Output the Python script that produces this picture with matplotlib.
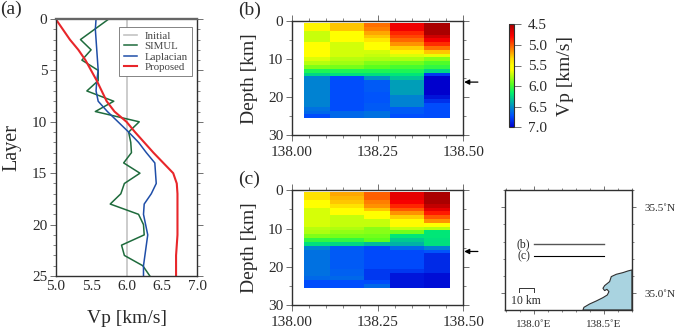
import numpy as np
import matplotlib
matplotlib.use("Agg")
import matplotlib.pyplot as plt
from matplotlib.colors import LinearSegmentedColormap, Normalize
from matplotlib.cm import ScalarMappable
from matplotlib.ticker import MultipleLocator, FixedLocator

plt.rcParams['font.family'] = ['Liberation Serif', 'DejaVu Serif']
plt.rcParams['mathtext.fontset'] = 'stix'
TXT = '#2a2a2a'

layers = list(range(26))
simul = [5.75,5.55,5.35,5.50,5.37,5.60,5.60,5.44,5.82,5.56,6.18,6.03,6.06,6.07,5.96,6.19,5.97,5.92,5.77,6.17,6.24,6.25,5.93,5.97,6.23,6.33]
laplacian = [5.57,5.56,5.57,5.58,5.59,5.60,5.58,5.57,5.60,5.73,5.88,6.03,6.17,6.28,6.40,6.41,6.42,6.35,6.25,6.24,6.27,6.30,6.28,6.26,6.24,6.24]
proposed = [5.00,5.10,5.20,5.32,5.42,5.50,5.58,5.65,5.72,5.83,6.00,6.12,6.25,6.38,6.52,6.66,6.71,6.72,6.72,6.72,6.72,6.72,6.71,6.70,6.70,6.70]
initial_x = [6.0, 6.0]
initial_y = [0, 25]

lon_edges = [138.037,138.112,138.212,138.286,138.386,138.461]
depth_edges = [0.5 + i for i in range(26)]

vp_b_col1 = [5.45,5.45,5.72,5.72,5.72,5.60,5.60,5.60,5.60,5.68,5.75,5.87,6.10,6.25,6.55,6.55,6.55,6.55,6.55,6.55,6.55,6.55,6.60,6.63,6.73]
vp_b_col2 = [5.28,5.28,5.60,5.60,5.60,5.70,5.70,5.70,5.70,5.75,5.80,5.89,6.10,6.22,6.73,6.73,6.73,6.73,6.73,6.73,6.73,6.73,6.73,6.63,6.63]
vp_b_col3 = [5.06,5.10,5.20,5.28,5.38,5.55,5.55,5.70,5.73,5.77,5.87,5.95,6.10,6.22,6.50,6.68,6.68,6.68,6.70,6.70,6.70,6.68,6.68,6.60,6.60]
vp_b_col4 = [4.74,4.74,4.88,4.95,5.04,5.15,5.30,5.45,5.68,5.77,5.90,6.00,6.10,6.20,6.32,6.45,6.45,6.45,6.45,6.55,6.55,6.55,6.68,6.68,6.72]
vp_b_col5 = [4.50,4.50,4.50,4.62,4.75,4.90,5.06,5.28,5.65,5.85,5.98,6.05,6.25,6.80,7.00,7.00,7.00,7.00,7.00,6.93,6.83,6.73,6.73,6.73,6.73]

vp_c_col1 = [5.35,5.35,5.55,5.55,5.69,5.69,5.69,5.69,5.69,5.75,5.77,5.87,6.05,6.22,6.55,6.60,6.60,6.60,6.60,6.60,6.60,6.60,6.63,6.73,6.73]
vp_c_col2 = [5.20,5.24,5.28,5.35,5.55,5.55,5.73,5.73,5.73,5.77,5.83,5.89,6.05,6.25,6.68,6.68,6.68,6.68,6.68,6.68,6.66,6.66,6.63,6.72,6.72]
vp_c_col3 = [5.02,5.02,5.10,5.15,5.28,5.55,5.55,5.73,5.73,5.85,5.85,5.90,5.95,6.35,6.74,6.74,6.74,6.74,6.74,6.74,6.80,6.80,6.80,6.73,6.63]
vp_c_col4 = [4.70,4.70,4.76,4.88,5.00,5.15,5.30,5.48,5.48,5.73,5.90,6.20,6.30,6.38,6.63,6.74,6.74,6.74,6.74,6.74,6.80,6.92,6.92,6.92,6.92]
vp_c_col5 = [4.50,4.50,4.50,4.58,4.70,4.85,5.00,5.15,5.55,5.75,6.20,6.20,6.22,6.22,6.55,6.70,6.85,6.85,6.85,6.85,6.85,6.95,6.95,6.95,6.95]

coast_lon = [137.79+0.5*(x-45)/210 for x in [280,283,300,320,340,353,358,352,345,340,345,360,365,380,400,415,427,427]]
coast_lat = [35.0+0.5*(370-y)/258 for y in [420,412,402,393,383,375,365,358,362,355,347,335,320,313,308,303,300,420]]

W, H = 675, 329
fig = plt.figure(figsize=(W/100, H/100), dpi=100)

def box(l, t, r, b):
    return fig.add_axes([l/W, 1-b/H, (r-l)/W, (b-t)/H])

def ftext(x, y, s, **k):
    k.setdefault('color', TXT)
    fig.text(x/W, 1-y/H, s, **k)

def style(ax):
    for s in ax.spines.values():
        s.set_linewidth(1.0)
        s.set_color('#303030')
    ax.tick_params(which='major', length=4, width=0.7, color='#707070', labelsize=11, labelcolor=TXT, pad=2)
    ax.tick_params(which='minor', length=2, width=0.6, color='#707070')

# (a)
axa = box(55.7, 19, 197.3, 276)
axa.plot(initial_x, initial_y, color='#c4c4c4', lw=1.2, label='Initial')
axa.plot(simul, layers, color='#1e6b3c', lw=1.1, label='SIMUL')
axa.plot(laplacian, layers, color='#1f4ea8', lw=1.1, label='Laplacian')
axa.plot(proposed, layers, color='#e8262a', lw=1.5, label='Proposed')
axa.set_xlim(5, 7); axa.set_ylim(25, 0)
axa.xaxis.set_major_locator(MultipleLocator(0.5))
axa.yaxis.set_major_locator(MultipleLocator(5))
axa.yaxis.set_minor_locator(MultipleLocator(1))
style(axa)
axa.spines['top'].set_linewidth(1.7)
axa.spines['top'].set_color('#666666')
axa.tick_params(axis='y', which='both', right=True)
axa.tick_params(axis='x', which='both', length=0, pad=3)
axa.set_xlabel('Vp [km/s]', fontsize=14, color=TXT, labelpad=12)
axa.set_ylabel('Layer', fontsize=14.5, color=TXT, labelpad=8)
leg = axa.legend(loc='upper right', bbox_to_anchor=(0.96, 0.97), borderaxespad=0, fontsize=7.8,
                 fancybox=False, framealpha=1, edgecolor='#707070', handlelength=1.2,
                 labelspacing=0.08, handletextpad=0.7, borderpad=0.4)
leg.get_frame().set_linewidth(0.6)
for t in leg.get_texts():
    t.set_color('#444444')

# (b), (c)
cmap_nodes = [(4.5,(170,0,0)),(4.78,(255,0,0)),(5.06,(255,111,0)),(5.33,(255,221,0)),(5.5,(255,255,0)),
              (5.6,(255,255,0)),(5.95,(90,255,30)),(6.17,(0,240,110)),(6.72,(0,80,255)),(7.0,(0,0,205))]
cmap = LinearSegmentedColormap.from_list('seis', [((v-4.5)/2.5, tuple(c/255 for c in rgb)) for v, rgb in cmap_nodes])
norm = Normalize(4.5, 7.0)

def section(top, bottom, columns):
    ax = box(291.7, top, 463.3, bottom)
    grid = np.array(columns).T
    ax.pcolormesh(lon_edges, depth_edges, grid, cmap=cmap, norm=norm, shading='flat', rasterized=True)
    ax.set_xlim(138.0, 138.5); ax.set_ylim(30, 0)
    ax.xaxis.set_major_locator(MultipleLocator(0.25))
    ax.xaxis.set_minor_locator(MultipleLocator(0.05))
    ax.xaxis.set_major_formatter(lambda v, p: f'{v:.2f}')
    ax.yaxis.set_major_locator(MultipleLocator(10))
    ax.yaxis.set_minor_locator(MultipleLocator(5))
    style(ax)
    ax.tick_params(axis='both', which='both', top=True, right=True)
    ax.tick_params(axis='x', pad=4)
    ax.set_ylabel('Depth [km]', fontsize=14, color=TXT, labelpad=7)
    ax.annotate('', xy=(1.005, 16/30*-1+1), xycoords='axes fraction', xytext=(1.085, 16/30*-1+1),
                arrowprops=dict(arrowstyle='-|>,head_length=0.3,head_width=0.15', color='black', lw=0.9,
                                shrinkA=0, shrinkB=0))
    return ax

axb = section(21.3, 135.3, [vp_b_col1, vp_b_col2, vp_b_col3, vp_b_col4, vp_b_col5])
axc = section(190.3, 305, [vp_c_col1, vp_c_col2, vp_c_col3, vp_c_col4, vp_c_col5])

# colour bar
cax = box(509, 24.3, 514.3, 127.3)
cb = fig.colorbar(ScalarMappable(norm=norm, cmap=cmap), cax=cax)
cb.set_ticks([4.5, 5.0, 5.5, 6.0, 6.5, 7.0])
cb.ax.set_yticklabels(['4.5', '5.0', '5.5', '6.0', '6.5', '7.0'])
cax.invert_yaxis()
cb.outline.set_linewidth(0.8)
cb.outline.set_edgecolor('#303030')
cax.tick_params(length=5, width=0.7, color='#707070', labelsize=11, labelcolor=TXT, pad=5)
ftext(566, 76, 'Vp [km/s]', fontsize=14, rotation=90, ha='center', va='center')

# map
axm = box(505, 190, 632.3, 310)
axm.set_xlim(137.793, 138.702); axm.set_ylim(34.903, 35.6)
axm.fill(coast_lon, coast_lat, facecolor='#a9d3e0', edgecolor='#303030', lw=0.8)
axm.plot([138.0, 138.5], [35.287, 35.287], color='#555555', lw=1.0)
axm.plot([138.0, 138.5], [35.215, 35.215], color='black', lw=0.8)
axm.text(137.975, 35.287, '(b)', fontsize=8.5, color=TXT, ha='right', va='center')
axm.text(137.975, 35.215, '(c)', fontsize=8.5, color=TXT, ha='right', va='center')
axm.plot([137.89, 137.89, 138.0, 138.0], [35.01, 35.028, 35.028, 35.01], color='#333333', lw=0.7)
axm.text(137.945, 34.99, '10 km', fontsize=8.5, color=TXT, ha='center', va='top')
axm.xaxis.set_major_locator(FixedLocator([138.0, 138.5]))
axm.xaxis.set_minor_locator(MultipleLocator(0.1))
axm.yaxis.set_major_locator(FixedLocator([35.0, 35.5]))
axm.yaxis.set_minor_locator(MultipleLocator(0.1))
axm.xaxis.set_major_formatter(lambda v, p: f'{v:.1f}˚E')
axm.yaxis.set_major_formatter(lambda v, p: f'{v:.1f}˚N')
style(axm)
axm.tick_params(axis='both', which='major', length=3, labelsize=8)
axm.tick_params(axis='both', which='minor', length=1.5)
axm.tick_params(axis='both', which='both', top=True, right=True, left=True, bottom=True)
axm.tick_params(axis='y', which='both', labelleft=False, labelright=True, pad=6)
axm.tick_params(axis='x', pad=4)

ftext(0, 9, '(a)', fontsize=14, va='center')
ftext(238, 10, '(b)', fontsize=14, va='center')
ftext(238, 179, '(c)', fontsize=14, va='center')

fig.savefig('out.png', dpi=100)
